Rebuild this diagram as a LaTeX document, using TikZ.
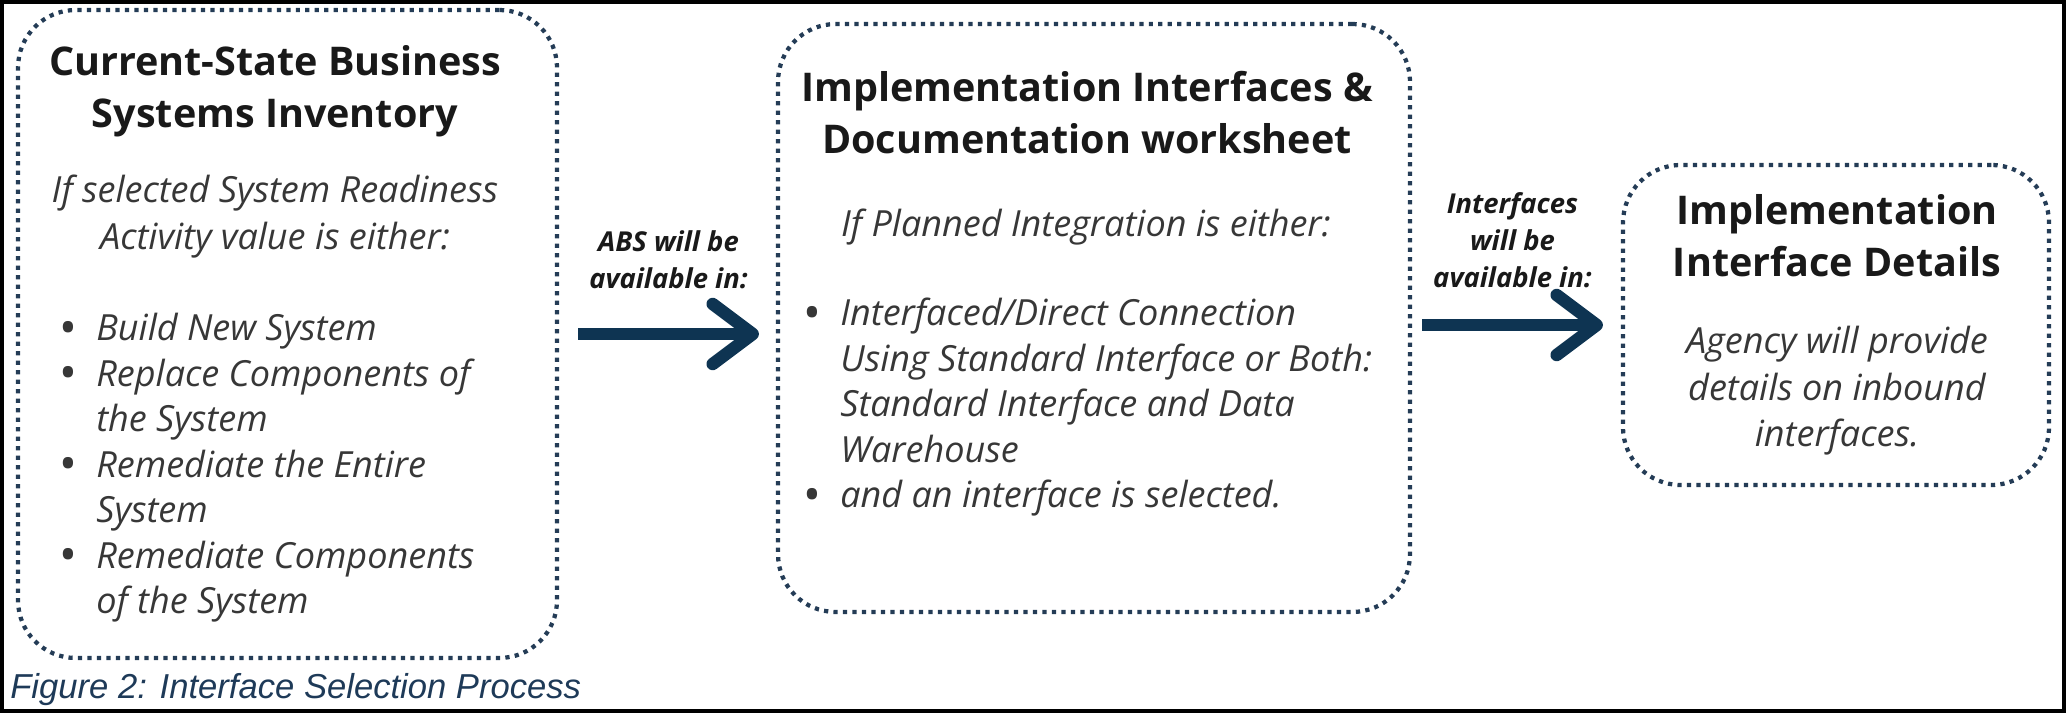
\documentclass[tikz,border=0pt]{standalone}
\usepackage{fontspec}
\setmainfont{Open Sans}
\newfontfamily\figcapfont{Liberation Sans}
\usetikzlibrary{arrows.meta, positioning}

\definecolor{dotnavy}{RGB}{36,60,86}
\definecolor{arrownavy}{RGB}{14,52,82}
\definecolor{capblue}{RGB}{30,58,88}
\definecolor{bodygray}{RGB}{55,55,55}

\newcommand{\itembul}{\llap{\raisebox{-0.07cm}{\fontsize{27}{27}\selectfont\textup{\textbullet}}\hspace{0.38cm}}}

\begin{document}
\begin{tikzpicture}[
		x=0.02cm, y=-0.02cm,
		inner sep=0pt,
		stage/.style={draw=dotnavy, line width=0.085cm, dash pattern=on 0.085cm off 0.105cm, rounded corners=1.15cm},
		heading/.style={anchor=north, align=center, text=black!90, font=\fontsize{22.5}{29.6}\selectfont\bfseries},
		detail/.style={anchor=north, align=center, text=bodygray, font=\fontsize{20.5}{26.5}\selectfont\itshape},
		items/.style={anchor=north west, align=left, text=bodygray, font=\fontsize{20.5}{25.9}\selectfont\itshape},
		flow/.style={draw=arrownavy, line width=0.25cm, -{Straight Barb[length=0.8cm, width=1.2cm, round]}},
		hint/.style={align=center, text=black!90, font=\fontsize{15.6}{21}\selectfont\bfseries\itshape}
	]

	\useasboundingbox (0,0) rectangle (2066,713);
	\draw[line width=0.09cm] (2.25,2.25) rectangle (2063.75,710.75);

	% the three stages
	\node[stage, minimum width=10.78cm, minimum height=12.96cm] (inventory) at (287.5,334) {};
	\node[stage, minimum width=12.64cm, minimum height=11.76cm] (worksheet) at (1094,318) {};
	\node[stage, minimum width=8.52cm, minimum height=6.4cm] (details) at (1836,325) {};

	% texts inside
	\node[heading] (invTitle) at (275,45) {Current-State Business\\Systems Inventory};
	\node[detail] (invRule) at (275,175) {If selected System Readiness\\Activity value is either:};
	\node[items] (invList) at (96,313) {\itembul Build New System\\\itembul Replace Components of\\the System\\\itembul Remediate the Entire\\System\\\itembul Remediate Components\\of the System};

	\node[heading] (wsTitle) at (1087,71) {Implementation Interfaces \&\\Documentation worksheet};
	\node[detail] (wsRule) at (1086,209) {If Planned Integration is either:};
	\node[items] (wsList) at (840,298) {\itembul Interfaced/Direct Connection\\Using Standard Interface or Both:\\Standard Interface and Data\\Warehouse\\\itembul and an interface is selected.};

	\node[heading] (detTitle) at (1837,194) {Implementation\\Interface Details};
	\node[detail] (detRule) at (1837,326) {Agency will provide\\details on inbound\\interfaces.};

	% arrows between stages
	\coordinate (absFrom) at ([xshift=0.38cm]inventory.east);
	\coordinate (absTo) at (worksheet.west |- absFrom);
	\draw[flow] (absFrom) -- ([xshift=-0.34cm]absTo)
		node[midway, above=0.78cm, hint] (absNote) {ABS will be\\available in:};

	\coordinate (ifTo) at ([xshift=-0.36cm]details.west);
	\coordinate (ifFrom) at (worksheet.east |- ifTo);
	\draw[flow] ([xshift=0.2cm]ifFrom) -- (ifTo)
		node[midway, above=0.62cm, hint] (ifNote) {Interfaces\\will be\\available in:};

	\node[anchor=base west, text=capblue, font=\figcapfont\itshape\fontsize{19.7}{24}\selectfont] (figCaption) at (10,698) {Figure 2: Interface Selection Process};
\end{tikzpicture}
\end{document}
